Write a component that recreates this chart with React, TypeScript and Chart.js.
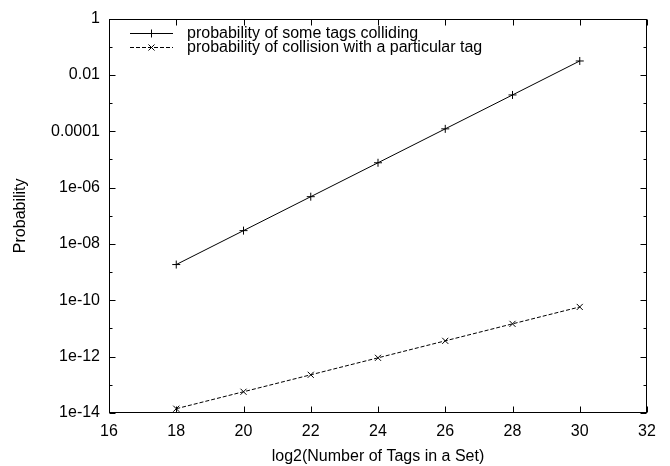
import React, { useEffect, useRef } from "react";
import { Chart, registerables } from "chart.js";

Chart.register(...registerables);

const xValues = [18, 20, 22, 24, 26, 28, 30];
const someTagsColliding = [1.86e-9, 2.98e-8, 4.77e-7, 7.63e-6, 1.22e-4, 1.95e-3, 3.13e-2];
const particularTagCollision = [1.42e-14, 5.68e-14, 2.27e-13, 9.09e-13, 3.64e-12, 1.46e-11, 5.82e-11];
const seriesNames = [
  "probability of some tags colliding",
  "probability of collision with a particular tag",
];
const xMin = 16;
const xMax = 32;
const xStep = 2;
const yTickValues = [
  1e-14, 1e-13, 1e-12, 1e-11, 1e-10, 1e-9, 1e-8, 1e-7, 1e-6, 1e-5, 1e-4, 1e-3, 1e-2, 1e-1, 1,
];
const yTickLabels = [
  "1e-14", "", "1e-12", "", "1e-10", "", "1e-08", "", "1e-06", "", "0.0001", "", "0.01", "", "1",
];
const xTitle = "log2(Number of Tags in a Set)";
const yTitle = "Probability";

const FONT = '"Liberation Sans", Arial, Helvetica, sans-serif';
const FS = 16;

function drawMarker(ctx: CanvasRenderingContext2D, style: string, x: number, y: number, r: number) {
  ctx.beginPath();
  if (style === "cross") {
    ctx.moveTo(x - r, y);
    ctx.lineTo(x + r, y);
    ctx.moveTo(x, y - r);
    ctx.lineTo(x, y + r);
  } else {
    const d = r * Math.SQRT1_2;
    ctx.moveTo(x - d, y - d);
    ctx.lineTo(x + d, y + d);
    ctx.moveTo(x - d, y + d);
    ctx.lineTo(x + d, y - d);
  }
  ctx.stroke();
}

const gnuplotFrame = {
  id: "gnuplotFrame",
  afterDatasetsDraw(chart: any) {
    const { ctx, chartArea } = chart;
    const { left, right, top, bottom } = chartArea;
    const xs = chart.scales.x;
    const ys = chart.scales.y;
    ctx.save();
    ctx.strokeStyle = "#000";
    ctx.lineWidth = 1;
    ctx.setLineDash([]);
    const L = Math.round(left) + 0.5;
    const R = Math.round(right) - 0.5;
    const T = Math.round(top) + 0.5;
    const B = Math.round(bottom) - 0.5;
    ctx.strokeRect(L, T, R - L, B - T);
    ctx.beginPath();
    xs.ticks.forEach((t: any) => {
      const px = Math.round(xs.getPixelForValue(t.value)) + 0.5;
      ctx.moveTo(px, B);
      ctx.lineTo(px, B - 6);
      ctx.moveTo(px, T);
      ctx.lineTo(px, T + 6);
    });
    ys.ticks.forEach((t: any, i: number) => {
      const py = Math.round(ys.getPixelForValue(t.value)) + 0.5;
      const len = yTickLabels[i] ? 6 : 3;
      ctx.moveTo(L, py);
      ctx.lineTo(L + len, py);
      ctx.moveTo(R, py);
      ctx.lineTo(R - len, py);
    });
    ctx.stroke();

    // legend
    chart.data.datasets.forEach((ds: any, i: number) => {
      const y = Math.round(top) + 14 + i * 14 + 0.5;
      const x0 = Math.round(left) + 21;
      const x1 = Math.round(left) + 64;
      ctx.strokeStyle = ds.borderColor;
      ctx.lineWidth = ds.borderWidth;
      ctx.setLineDash(ds.borderDash || []);
      ctx.beginPath();
      ctx.moveTo(x0, y);
      ctx.lineTo(x1, y);
      ctx.stroke();
      ctx.setLineDash([]);
      drawMarker(ctx, ds.pointStyle, (x0 + x1) / 2, y, ds.pointRadius);
      ctx.fillStyle = "#000";
      ctx.font = `${FS}px ${FONT}`;
      ctx.textBaseline = "middle";
      ctx.textAlign = "left";
      ctx.fillText(ds.label, Math.round(left) + 78, y);
    });
    ctx.restore();
  },
};

export default function App() {
  const ref = useRef<HTMLCanvasElement | null>(null);
  useEffect(() => {
    document.body.style.margin = "0";
    const canvas = ref.current;
    if (!canvas) return;
    const chart = new Chart(canvas, {
      type: "line",
      data: {
        datasets: [
          {
            label: seriesNames[0],
            data: xValues.map((x, i) => ({ x, y: someTagsColliding[i] })),
            borderColor: "#000",
            borderWidth: 1,
            pointStyle: "cross",
            pointRadius: 4,
            pointBorderColor: "#000",
            pointBorderWidth: 1,
            tension: 0,
            fill: false,
          },
          {
            label: seriesNames[1],
            data: xValues.map((x, i) => ({ x, y: particularTagCollision[i] })),
            borderColor: "#000",
            borderWidth: 1,
            borderDash: [4, 2],
            pointStyle: "crossRot",
            pointRadius: 4.3,
            pointBorderColor: "#000",
            pointBorderWidth: 1,
            tension: 0,
            fill: false,
          },
        ],
      },
      options: {
        responsive: false,
        animation: false,
        devicePixelRatio: 1,
        layout: { padding: { top: 14, right: 23, left: 0, bottom: 0 } },
        plugins: {
          legend: { display: false },
          tooltip: { enabled: false },
        },
        scales: {
          x: {
            type: "linear",
            min: xMin,
            max: xMax,
            grid: { display: false, drawTicks: false },
            border: { display: false },
            ticks: {
              stepSize: xStep,
              color: "#000",
              font: { family: FONT, size: FS },
              padding: 9,
              maxRotation: 0,
              autoSkip: false,
            },
            title: {
              display: true,
              text: xTitle,
              color: "#000",
              font: { family: FONT, size: FS },
              padding: { top: 0, bottom: 0 },
            },
            afterFit(scale: any) {
              scale.height = 53;
            },
          },
          y: {
            type: "logarithmic",
            min: 1e-14,
            max: 1,
            grid: { display: false, drawTicks: false },
            border: { display: false },
            afterBuildTicks(scale: any) {
              scale.ticks = yTickValues.map((v) => ({ value: v }));
            },
            ticks: {
              color: "#000",
              font: { family: FONT, size: FS },
              padding: 9,
              autoSkip: false,
              callback: (_v: any, i: number) => yTickLabels[i],
            },
            title: {
              display: true,
              text: yTitle,
              color: "#000",
              font: { family: FONT, size: FS },
              padding: { top: 11, bottom: 0 },
            },
            afterFit(scale: any) {
              scale.width = 109;
            },
          },
        },
      },
      plugins: [gnuplotFrame],
    } as any);
    return () => chart.destroy();
  }, []);
  return (
    <div style={{ width: 670, height: 466, background: "#fff" }}>
      <canvas ref={ref} width={670} height={466} style={{ display: "block" }} />
    </div>
  );
}
